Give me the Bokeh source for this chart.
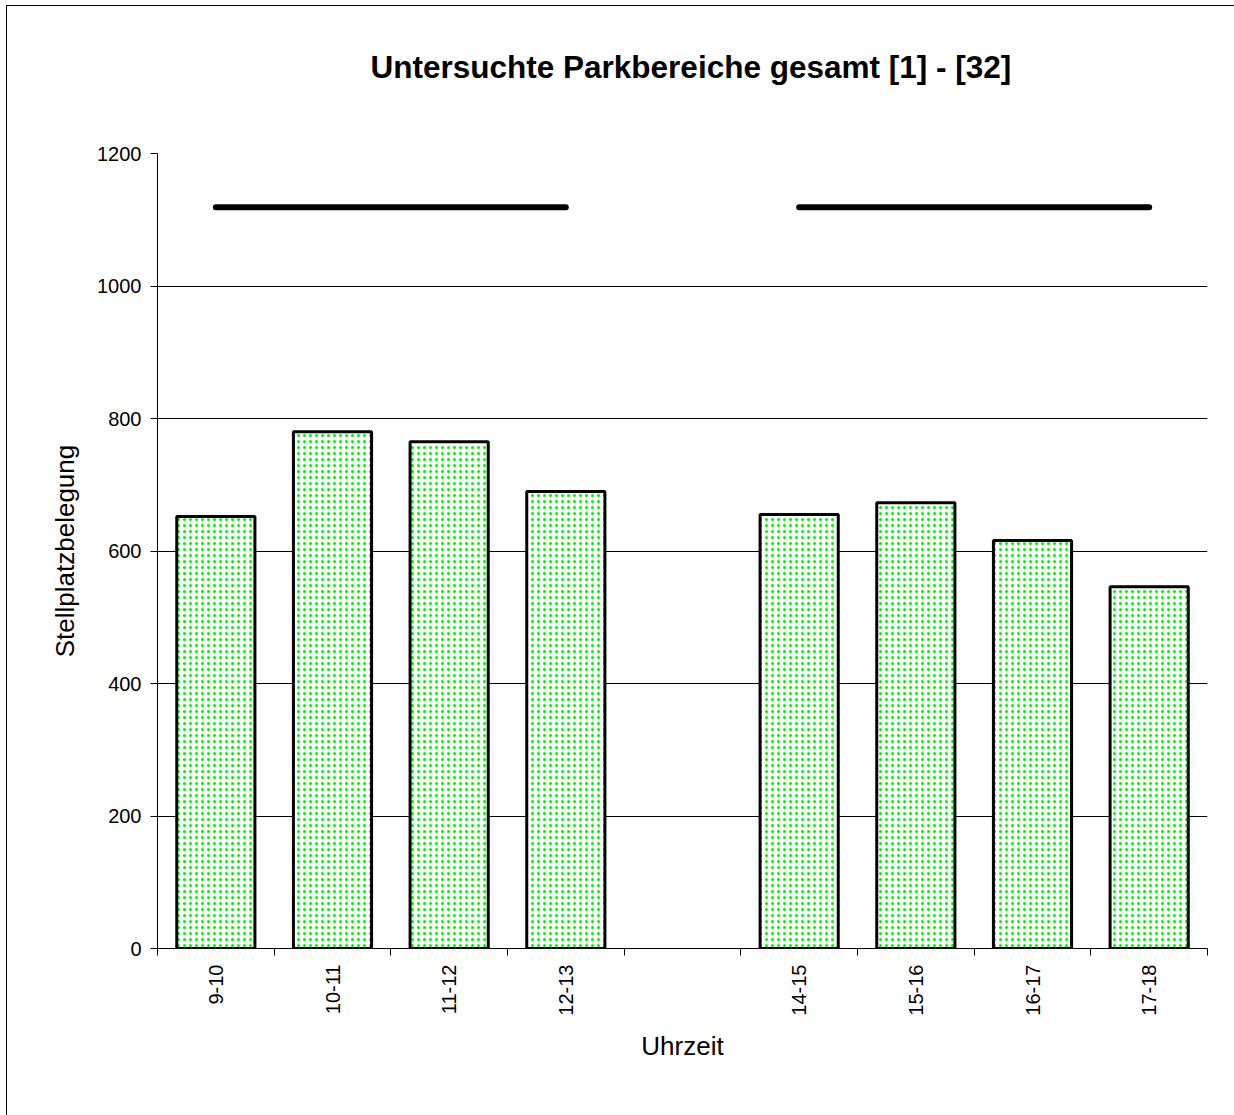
import numpy as np
from bokeh.plotting import figure
from bokeh.models import FixedTicker, ColumnDataSource, Range1d, Title
from bokeh.embed import file_html
from bokeh.resources import INLINE

categories = ["9-10", "10-11", "11-12", "12-13", "", "14-15", "15-16", "16-17", "17-18"]
belegung = [652, 780, 765, 690, np.nan, 655, 673, 616, 546]
kapazitaet = [1119, 1119, 1119, 1119, np.nan, 1119, 1119, 1119, 1119]
y_ticks = [0, 200, 400, 600, 800, 1000, 1200]
title_text = "Untersuchte Parkbereiche gesamt [1] - [32]"

FONT = "Liberation Sans"
n = len(categories)
centers = [i + 0.5 for i in range(n)]
bounds = list(range(n + 1))

src = ColumnDataSource(dict(x=centers, top=belegung, cap=kapazitaet))

p = figure(width=1228, height=1110, output_backend="svg", toolbar_location=None,
           x_range=Range1d(0, n), y_range=Range1d(0, 1200),
           min_border_left=150, min_border_right=28, min_border_top=147, min_border_bottom=168,
           title=title_text)
p.styles = {"border-left": "1px solid black", "border-top": "1px solid black",
            "margin-left": "6px", "margin-top": "5px"}
p.outline_line_color = None
p.background_fill_color = "white"

p.title.text_font = FONT
p.title.text_font_size = "31.5px"
p.title.text_font_style = "bold"
p.title.align = "left"
p.title.offset = 213
p.title.text_color = "black"
p.title.standoff = 67
p.add_layout(Title(text=" ", text_font_size="30px", standoff=0), "above")

p.vbar(x="x", top="top", width=0.67, bottom=0, source=src,
       fill_color="white", line_color="black", line_width=3,
       hatch_pattern="dot", hatch_color="#00f000", hatch_scale=6, hatch_weight=2)
p.line(x="x", y="cap", source=src, line_color="black", line_width=6, line_cap="round")

# axes
xa = p.xaxis[0]
xa.ticker = FixedTicker(ticks=centers, minor_ticks=bounds)
xa.major_label_overrides = {c: lab for c, lab in zip(centers, categories)}
xa.major_label_orientation = np.pi / 2
xa.major_tick_line_color = None
xa.minor_tick_in = 0
xa.minor_tick_out = 7
xa.minor_tick_line_color = "black"
xa.axis_line_color = "black"
xa.major_label_text_font = FONT
xa.major_label_text_font_size = "20px"
xa.major_label_text_color = "black"
xa.major_label_standoff = 9
xa.axis_label = "Uhrzeit"
xa.axis_label_text_font = FONT
xa.axis_label_text_font_size = "26px"
xa.axis_label_text_font_style = "normal"
xa.axis_label_text_color = "black"
xa.axis_label_standoff = 12

ya = p.yaxis[0]
ya.ticker = FixedTicker(ticks=y_ticks)
ya.minor_tick_line_color = None
ya.major_tick_in = 0
ya.major_tick_out = 7
ya.major_tick_line_color = "black"
ya.axis_line_color = "black"
ya.major_label_text_font = FONT
ya.major_label_text_font_size = "20px"
ya.major_label_text_color = "black"
ya.major_label_standoff = 9
ya.axis_label = "Stellplatzbelegung"
ya.axis_label_text_font = FONT
ya.axis_label_text_font_size = "26px"
ya.axis_label_text_font_style = "normal"
ya.axis_label_text_color = "black"
ya.axis_label_standoff = 14

p.xgrid.grid_line_color = None
p.ygrid.ticker = FixedTicker(ticks=y_ticks)
p.ygrid.grid_line_color = "black"
p.ygrid.grid_line_width = 1

open("out.html", "w").write(file_html(p, INLINE))
